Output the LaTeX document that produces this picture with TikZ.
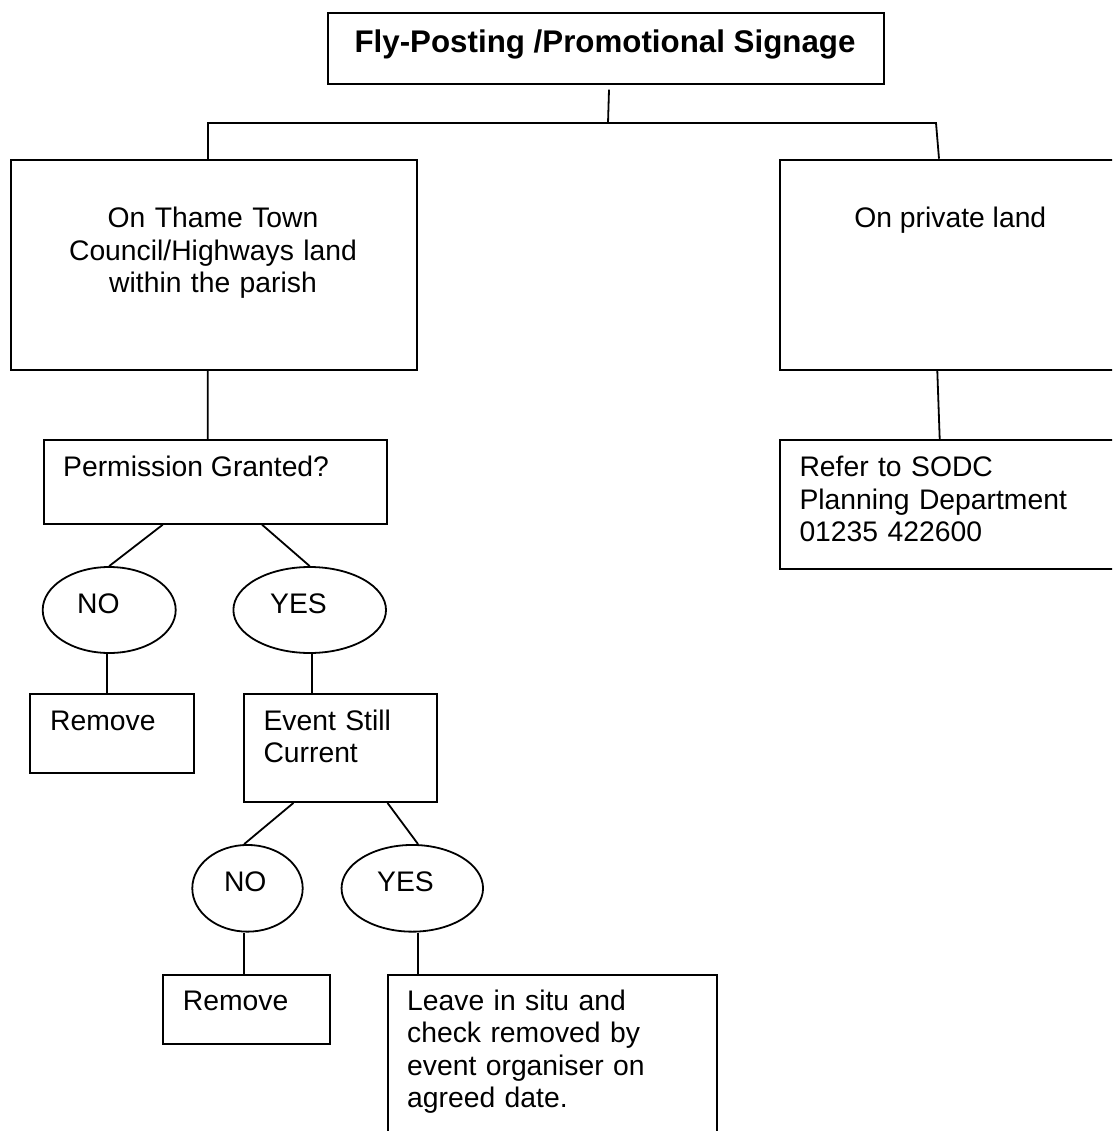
\documentclass[tikz,border=0pt]{standalone}
\usepackage{fontspec}
\setmainfont{Liberation Sans}
\usetikzlibrary{shapes.geometric}
\tikzset{
  box/.style={draw, line width=2pt, rectangle, inner sep=0pt, anchor=north west},
  oval/.style={draw, line width=1.8pt, ellipse, inner sep=0pt},
  txt/.style={inner sep=0pt, font=\fontsize{28.3}{32.5}\selectfont, anchor=base west},
  conn/.style={line width=1.8pt},
}
\begin{document}
\begin{tikzpicture}[x=1pt,y=-1pt]
\fill[white] (0,0) rectangle (1112,1131);
\useasboundingbox (0,0) rectangle (1112,1131);
\begin{scope}
\clip (0,0) rectangle (1112,1131);
% boxes
\node[box, minimum width=556pt, minimum height=70.4pt] (title) at (327,12.3) {};
\node[box, minimum width=406pt, minimum height=210.3pt] (left) at (10,158.7) {};
\node[box, minimum width=345pt, minimum height=210.3pt] (right) at (778.5,158.7) {};
\node[box, minimum width=343.3pt, minimum height=83.7pt] (perm) at (42.7,439) {};
\node[oval, minimum width=133pt, minimum height=86pt] (no1) at (109.2,610) {};
\node[oval, minimum width=152.6pt, minimum height=86pt] (yes1) at (309.7,610) {};
\node[box, minimum width=164pt, minimum height=79pt] (rem1) at (29.3,693) {};
\node[box, minimum width=192.5pt, minimum height=108pt] (event) at (243.3,693) {};
\node[oval, minimum width=110.4pt, minimum height=86.7pt] (no2) at (247.5,888.3) {};
\node[oval, minimum width=141.5pt, minimum height=86.7pt] (yes2) at (412.3,888.3) {};
\node[box, minimum width=167.3pt, minimum height=68.7pt] (rem2) at (161.5,974) {};
\node[box, minimum width=329pt, minimum height=200pt] (leave) at (386.5,974) {};
\node[box, minimum width=345pt, minimum height=128.7pt] (sodc) at (778.5,439) {};
% texts
\node[txt, anchor=base, font=\fontsize{31.3}{36}\selectfont\bfseries] (titletxt) at (605,52.5) {Fly-Posting /Promotional Signage};
\node[txt, anchor=base, text width=340pt, align=center] (lefttxt) at (213,228) {On Thame Town\\Council/Highways land\\within the parish};
\node[txt, anchor=base] (righttxt) at (950.3,228) {On private land};
\node[txt] (permtxt) at (63,476) {Permission Granted?};
\node[txt] (no1txt) at (77,613) {NO};
\node[txt] (yes1txt) at (270,613) {YES};
\node[txt] (rem1txt) at (50,730) {Remove};
\node[txt, text width=180pt, align=left] (eventtxt) at (263.3,730) {Event Still\\Current};
\node[txt] (no2txt) at (223.8,891.7) {NO};
\node[txt] (yes2txt) at (377,891.7) {YES};
\node[txt] (rem2txt) at (182.7,1010) {Remove};
\node[txt, text width=300pt, align=left] (leavetxt) at (407,1010) {Leave in situ and\\check removed by\\event organiser on\\agreed date.};
\node[txt, text width=300pt, align=left] (sodctxt) at (799.3,476.7) {Refer to SODC\\Planning Department\\01235 422600};
% connectors
\coordinate (j) at (608,123);
\coordinate (jr) at (936,123);
\draw[conn] ([shift={(3pt,-5pt)}]title.south) -- (j);
\draw[conn] (j) -| ([xshift=-6.3pt]left.north);
\draw[conn] (j) -- (jr) -- ([xshift=-13pt]right.north);
\draw[conn] ([xshift=-6.3pt]left.south) -- ([xshift=-7.6pt]perm.north);
\draw[conn] ([xshift=-14.7pt]right.south) -- ([xshift=-12.3pt]sodc.north);
\draw[conn] ([xshift=-52.6pt]perm.south) -- (no1.north);
\draw[conn] ([xshift=46.7pt]perm.south) -- (yes1.north);
\draw[conn] ([xshift=-2pt]no1.south) -- ([xshift=-2pt]no1.south |- rem1.north);
\draw[conn] ([xshift=2pt]yes1.south) -- ([xshift=2pt]yes1.south |- event.north);
\draw[conn] ([xshift=-47.2pt]event.south) -- ([xshift=-3.3pt]no2.north);
\draw[conn] ([xshift=47pt]event.south) -- ([xshift=5.7pt]yes2.north);
\draw[conn] ([xshift=-3.3pt]no2.south) -- ([xshift=-3.3pt]no2.south |- rem2.north);
\draw[conn] ([xshift=5.7pt]yes2.south) -- ([xshift=5.7pt]yes2.south |- leave.north);
\end{scope}
\end{tikzpicture}
\end{document}
